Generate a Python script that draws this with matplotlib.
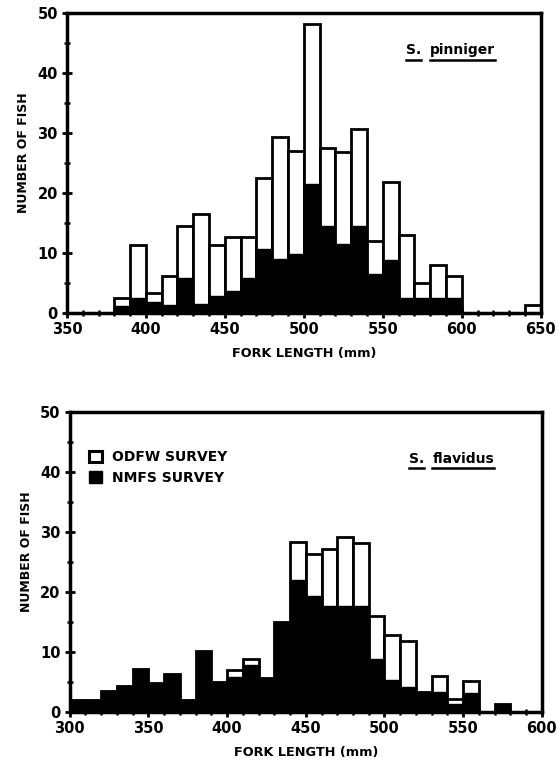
import matplotlib
matplotlib.use("Agg")
import matplotlib.pyplot as plt
from matplotlib.patches import Patch
from matplotlib.ticker import MultipleLocator

# S. pinniger: left edges of 10 mm bins, total count (ODFW+NMFS) and NMFS part
pinniger_bins = [380, 390, 400, 410, 420, 430, 440, 450, 460, 470, 480, 490,
                 500, 510, 520, 530, 540, 550, 560, 570, 580, 590, 640]
pinniger_total = [2.6, 11.4, 3.3, 6.2, 14.6, 16.5, 11.4, 12.7, 12.7, 22.5, 29.3, 27.1,
                  48.2, 27.6, 26.8, 30.7, 12.0, 21.9, 13.1, 5.0, 8.0, 6.2, 1.4]
pinniger_nmfs = [1.2, 2.6, 1.8, 1.4, 5.8, 1.6, 2.8, 3.7, 5.9, 10.7, 9.0, 9.9,
                 21.5, 14.5, 11.6, 14.5, 6.6, 8.8, 2.6, 2.6, 2.6, 2.6, 0.0]

# S. flavidus
flavidus_bins = [300, 310, 320, 330, 340, 350, 360, 370, 380, 390, 400, 410, 420, 430,
                 440, 450, 460, 470, 480, 490, 500, 510, 520, 530, 540, 550, 560, 570]
flavidus_total = [2.0, 2.0, 3.5, 4.3, 7.2, 4.8, 6.4, 2.0, 10.2, 5.0, 7.0, 8.9, 5.7, 15.0,
                  28.3, 26.3, 27.2, 29.1, 28.1, 16.0, 12.9, 11.8, 3.3, 6.0, 2.2, 5.2, 0.0, 1.3]
flavidus_nmfs = [2.0, 2.0, 3.5, 4.3, 7.2, 4.8, 6.4, 2.0, 10.2, 5.0, 5.9, 7.8, 5.7, 15.0,
                 21.9, 19.3, 17.7, 17.7, 17.7, 8.8, 5.3, 4.1, 3.3, 3.3, 1.3, 3.2, 0.0, 1.3]

plt.rcParams["font.family"] = "DejaVu Sans"
plt.rcParams["font.weight"] = "bold"

fig = plt.figure(figsize=(5.58, 7.66), dpi=100)
ax1 = fig.add_axes([0.120, 0.591, 0.849, 0.392])
ax2 = fig.add_axes([0.125, 0.0705, 0.846, 0.392])


def dibujar(ax, bins, total, nmfs, xlim, species, sp_pos):
    ax.bar(bins, total, width=10, align="edge", color="white", edgecolor="black",
           linewidth=2.0, zorder=2)
    ax.bar(bins, nmfs, width=10, align="edge", color="black", edgecolor="black",
           linewidth=1.0, zorder=3)
    ax.set_xlim(*xlim)
    ax.set_ylim(0, 50)
    ax.xaxis.set_major_locator(MultipleLocator(50))
    ax.xaxis.set_minor_locator(MultipleLocator(10))
    ax.yaxis.set_major_locator(MultipleLocator(10))
    ax.yaxis.set_minor_locator(MultipleLocator(5))
    ax.tick_params(which="major", direction="inout", length=7, width=2,
                   labelsize=10.5, pad=3)
    ax.tick_params(which="minor", direction="inout", length=5, width=1.8)
    for lab in ax.get_xticklabels() + ax.get_yticklabels():
        lab.set_fontweight("bold")
    for s in ax.spines.values():
        s.set_linewidth(2.5)
        s.set_zorder(4)
    ax.set_ylabel("NUMBER OF FISH", fontsize=9, fontweight="bold")
    ax.yaxis.set_label_coords(-0.077, 0.535)
    ax.set_xlabel("FORK LENGTH (mm)", fontsize=9.3, fontweight="bold", labelpad=7)

    # species name with separate underlines for genus and epithet
    genus, epithet = species.split(" ")
    x0, y0 = sp_pos
    t1 = ax.text(x0, y0, genus, transform=ax.transAxes, fontsize=10,
                 fontweight="bold", ha="left", va="baseline")
    fig.canvas.draw()
    bb = t1.get_window_extent().transformed(ax.transAxes.inverted())
    t2 = ax.text(bb.x1 + 0.018, y0, epithet, transform=ax.transAxes, fontsize=10,
                 fontweight="bold", ha="left", va="baseline")
    fig.canvas.draw()
    for t in (t1, t2):
        b = t.get_window_extent().transformed(ax.transAxes.inverted())
        ax.plot([b.x0, b.x1], [y0 - 0.018, y0 - 0.018], color="black",
                linewidth=1.8, transform=ax.transAxes, clip_on=False)


dibujar(ax1, pinniger_bins, pinniger_total, pinniger_nmfs, (350, 650),
        "S. pinniger", (0.716, 0.862))
dibujar(ax2, flavidus_bins, flavidus_total, flavidus_nmfs, (300, 600),
        "S. flavidus", (0.718, 0.830))

handles = [Patch(facecolor="white", edgecolor="black", linewidth=2.2, label="ODFW SURVEY"),
           Patch(facecolor="black", edgecolor="black", label="NMFS SURVEY")]
leg = ax2.legend(handles=handles, loc="upper left", bbox_to_anchor=(0.03, 0.89),
                 frameon=False, handlelength=0.9, handleheight=0.9,
                 handletextpad=0.7, labelspacing=0.45, borderaxespad=0,
                 prop={"size": 10, "weight": "bold"})

fig.savefig("out.png", dpi=100)
